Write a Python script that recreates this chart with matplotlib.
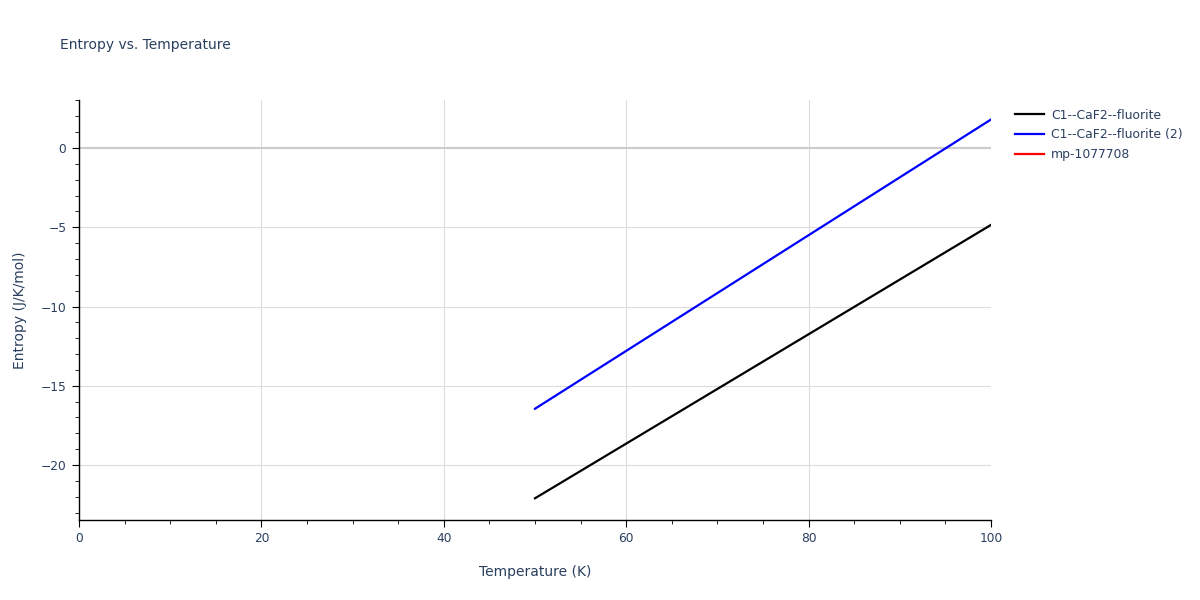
import matplotlib
matplotlib.use('Agg')
import matplotlib.pyplot as plt
from matplotlib.ticker import MultipleLocator

plt.rcParams['font.family'] = ['DejaVu Sans']

# data
temperature = [50, 60, 70, 80, 90, 100]
entropy_fluorite = [-22.1, -18.65, -15.2, -11.75, -8.3, -4.85]
entropy_fluorite_2 = [-16.45, -12.8, -9.15, -5.5, -1.85, 1.8]
entropy_mp = []
temperature_mp = []

series_names = ['C1--CaF2--fluorite', 'C1--CaF2--fluorite (2)', 'mp-1077708']
series_colors = ['black', 'blue', 'red']

text_col = '#2a3f5f'

fig = plt.figure(figsize=(12, 6), dpi=100)
ax = fig.add_axes([79/1200, 1-520/600, (991-79)/1200, 420/600])

ax.plot(temperature, entropy_fluorite, color=series_colors[0], lw=1.6, label=series_names[0])
ax.plot(temperature, entropy_fluorite_2, color=series_colors[1], lw=1.6, label=series_names[1])
ax.plot(temperature_mp, entropy_mp, color=series_colors[2], lw=1.6, label=series_names[2])

ax.set_xlim(0, 100)
ax.set_ylim(-23.47, 3.03)

ax.xaxis.set_major_locator(MultipleLocator(20))
ax.xaxis.set_minor_locator(MultipleLocator(5))
ax.yaxis.set_major_locator(MultipleLocator(5))
ax.yaxis.set_minor_locator(MultipleLocator(1))

ax.grid(True, which='major', color='#dcdcdc', lw=0.8)
ax.axhline(0, color='#cccccc', lw=1.5, zorder=1)
ax.set_axisbelow(True)

for s in ['top', 'right']:
    ax.spines[s].set_visible(False)
for s in ['left', 'bottom']:
    ax.spines[s].set_color('black')
    ax.spines[s].set_linewidth(1)

ax.tick_params(which='major', direction='out', length=5, color='black',
               labelsize=8.8, labelcolor=text_col, pad=4)
ax.tick_params(which='minor', direction='out', length=3, color='black')

ax.yaxis.set_major_formatter(matplotlib.ticker.FuncFormatter(
    lambda v, p: ('\u2212%d' % abs(v)) if v < 0 else '%d' % v))

ax.set_xlabel('Temperature (K)', fontsize=10, color=text_col, labelpad=14)
ax.set_ylabel('Entropy (J/K/mol)', fontsize=10, color=text_col, labelpad=10)

fig.text(60/1200, 1-45/600, 'Entropy vs. Temperature', fontsize=10,
         color=text_col, va='center', ha='left')

leg = ax.legend(loc='upper left', bbox_to_anchor=(1.017, 1.0), frameon=False,
                fontsize=8.9, handlelength=2.3, handletextpad=0.6,
                labelspacing=0.55, borderaxespad=0.3)
for t in leg.get_texts():
    t.set_color(text_col)

fig.savefig('out.png', dpi=100)
